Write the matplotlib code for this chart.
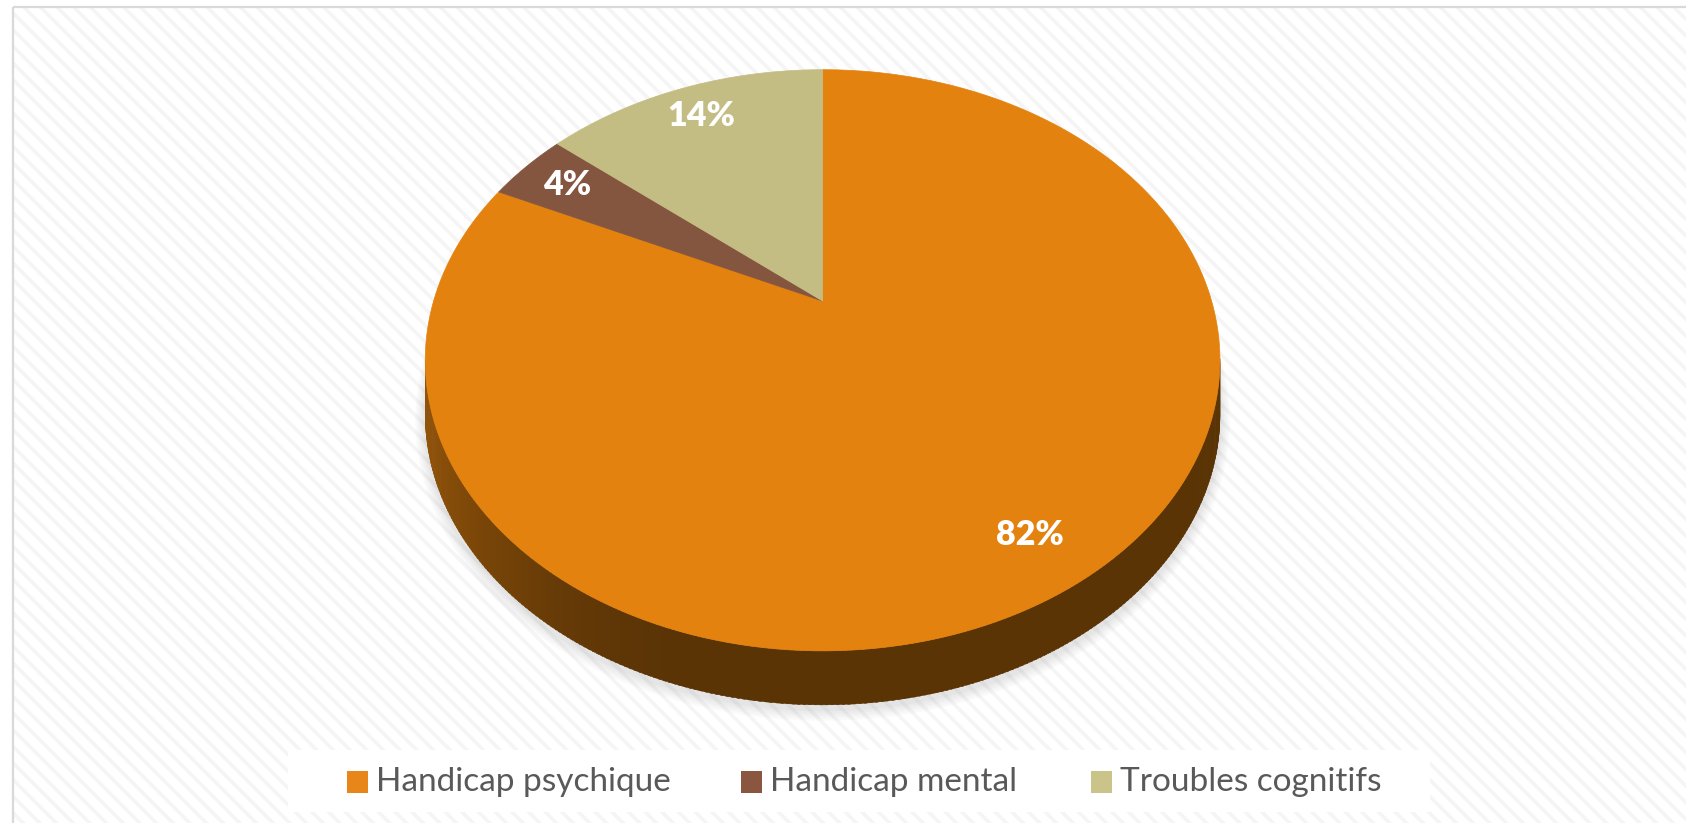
import numpy as np
import matplotlib
matplotlib.use("Agg")
from matplotlib import pyplot
from matplotlib.patches import Polygon, Rectangle
from matplotlib.colors import to_rgb

categories = ["Handicap psychique", "Handicap mental", "Troubles cognitifs"]
values = [82, 4, 14]
colors = ["#E3820F", "#84553F", "#C4BD83"]
legend_colors = ["#E8861A", "#8A5640", "#CBC48A"]

pyplot.rcParams['hatch.linewidth'] = 2.6

W, H_PX = 1686, 823
fig = pyplot.figure(figsize=(W / 100, H_PX / 100), dpi=100)
ax = fig.add_axes([0, 0, 1, 1])
ax.set_xlim(0, W)
ax.set_ylim(H_PX, 0)
ax.axis('off')

# chart area with fine diagonal pattern
ax.add_patch(Rectangle((13, 7), 1700, 830, facecolor='white', edgecolor='#F5F5F5',
                       hatch='\\\\', lw=0, zorder=0))
ax.add_patch(Rectangle((13, 7), 1700, 830, fill=False, edgecolor='#D9D9D9', lw=1.6, zorder=1))

# perspective ellipse for the pie
cx, cy, R, H, k, D = 822.6, 301.0, 389.0, 278.5, 0.204, 54.0


def proj(theta_deg, r=1.0, depth=0.0):
    t = np.radians(theta_deg)
    x3 = r * np.cos(t)
    y3 = r * np.sin(t)
    den = 1 + k * y3
    return cx + R * x3 / den, cy - H * y3 / den + depth


# soft shadow under the pie
tt = np.linspace(0, 360, 361)
for i, a in enumerate([0.035, 0.035, 0.04, 0.045, 0.05]):
    grow = 10 - 2 * i
    sx, sy = proj(tt, depth=D + 4)
    mx, my = cx, cy + D
    sx = mx + (sx - mx) * (1 + grow / 400)
    sy = my + (sy - my) * (1 + grow / 300)
    ax.add_patch(Polygon(np.column_stack([sx, sy]), closed=True, facecolor='#808080',
                         edgecolor='none', alpha=a, zorder=2))

# slice angles (start at 12 o'clock, clockwise)
bounds = [90.0]
for v in values:
    bounds.append(bounds[-1] - 360.0 * v / sum(values))


def slice_at(theta):
    for i in range(len(values)):
        lo, hi = bounds[i + 1], bounds[i]
        th = theta
        while th > hi:
            th -= 360
        while th < lo:
            th += 360
        if lo <= th <= hi:
            return i
    return 0


# visible side wall (front), with shading
t1 = 180 + np.degrees(np.arcsin(k))
t2 = 360 - np.degrees(np.arcsin(k))
steps = np.linspace(t1, t2, 240)
for a0, a1 in zip(steps[:-1], steps[1:]):
    am = (a0 + a1) / 2
    base = np.array(to_rgb(colors[slice_at(am)]))
    u = np.clip((am - t1) / (255 - t1), 0, 1)
    u = u * u * (3 - 2 * u)
    f = 0.64 - 0.24 * u
    seg = np.linspace(a0, a1 + 0.3, 3)
    xt, yt = proj(seg)
    xb, yb = proj(seg[::-1], depth=D)
    ax.add_patch(Polygon(np.column_stack([np.r_[xt, xb], np.r_[yt, yb]]), closed=True,
                         facecolor=base * f, edgecolor=base * f, lw=0.3, zorder=3))

# top faces
for i, v in enumerate(values):
    arc = np.linspace(bounds[i], bounds[i + 1], 200)
    ax_, ay_ = proj(arc)
    pts = np.column_stack([np.r_[cx, ax_], np.r_[cy, ay_]])
    ax.add_patch(Polygon(pts, closed=True, facecolor=colors[i], edgecolor=colors[i],
                         lw=0.5, zorder=4))

# percentage labels
for i, v in enumerate(values):
    mid = (bounds[i] + bounds[i + 1]) / 2
    lx, ly = proj(mid, r=0.85)
    ax.text(lx, ly, f"{v}%", color='white', fontsize=24.5, fontweight='heavy',
            family='Lato', ha='center', va='center', zorder=5)

# legend
ax.add_patch(Rectangle((288, 750), 1142, 62, facecolor='white', edgecolor='none', zorder=5))
swatch_x = [347, 741, 1091]
for x, c, name in zip(swatch_x, legend_colors, categories):
    ax.add_patch(Rectangle((x, 771), 21, 22, facecolor=c, edgecolor='none', zorder=6))
    ax.text(x + 29, 782, name, color='#595959', fontsize=24, family='Lato',
            ha='left', va='center', zorder=6)

pyplot.savefig('out.png', dpi=100)
